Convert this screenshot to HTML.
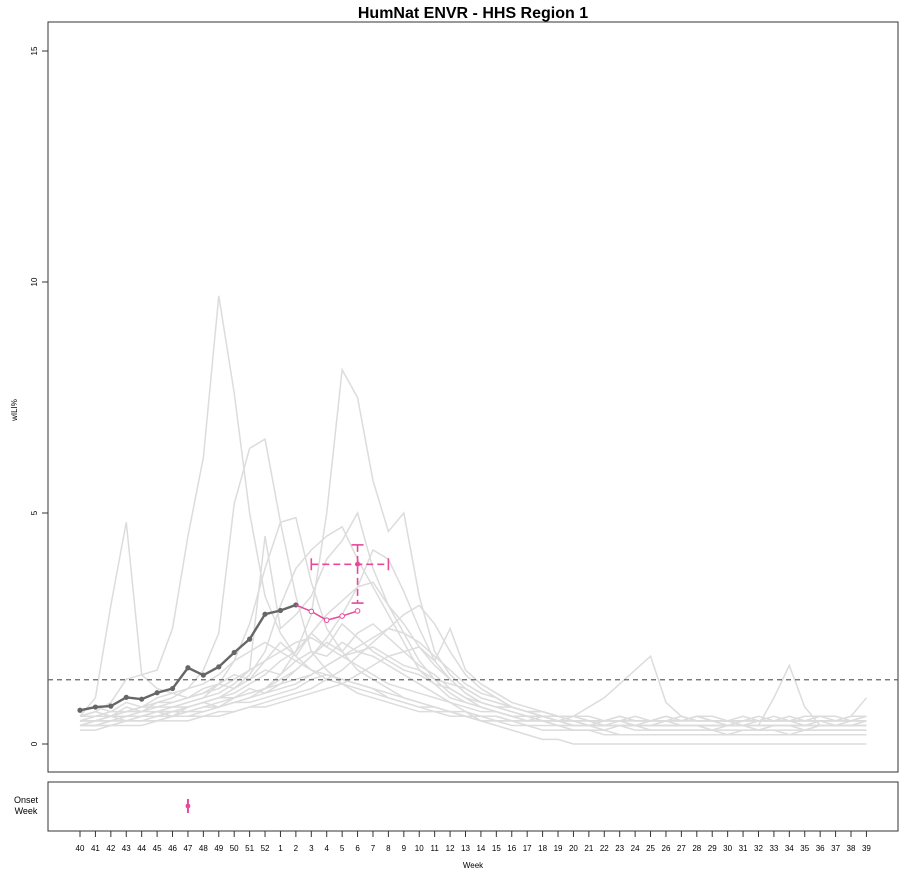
<!DOCTYPE html>
<html><head><meta charset="utf-8"><style>
body{margin:0;background:#fff;font-family:"Liberation Sans",sans-serif}
svg text{font-family:"Liberation Sans",sans-serif}
</style></head><body>
<svg id="c" width="918" height="880" xmlns="http://www.w3.org/2000/svg">
<text x="473" y="18" text-anchor="middle" font-size="16" font-weight="bold">HumNat ENVR - HHS Region 1</text>
<rect x="48" y="22" width="850" height="750" fill="none" stroke="#333" stroke-width="1"/>
<rect x="48" y="782" width="850" height="49" fill="none" stroke="#333" stroke-width="1"/>
<text transform="translate(17,410) rotate(-90)" text-anchor="middle" font-size="8">wILI%</text>
<text x="473" y="868" text-anchor="middle" font-size="8">Week</text>
<text x="26" y="803" text-anchor="middle" font-size="9">Onset</text>
<text x="26" y="814" text-anchor="middle" font-size="9">Week</text>
<g id="hist"></g><g id="axes"></g><g id="cur"></g>
</svg>
<script>
const weeks=[40,41,42,43,44,45,46,47,48,49,50,51,52,1,2,3,4,5,6,7,8,9,10,11,12,13,14,15,16,17,18,19,20,21,22,23,24,25,26,27,28,29,30,31,32,33,34,35,36,37,38,39];
const yTicks=[0,5,10,15];
const current=[0.73,0.80,0.82,1.01,0.97,1.11,1.20,1.65,1.49,1.67,1.98,2.27,2.81,2.89,3.01];
const forecastWeeksIdx=[14,15,16,17,18];
const forecast=[3.01,2.87,2.68,2.77,2.88];
const peakIdx=18, peakVal=3.89, peakLo=3.05, peakHi=4.31, peakWkLo=15, peakWkHi=20;
const onsetIdx=7;
const baseline=1.39;
const hA=[0.6,0.7,0.9,1.4,1.5,1.6,2.5,4.5,6.2,9.7,7.6,5.0,3.2, 2.4,1.9,1.6,1.4,1.3,1.2,1.1,1.0,0.9,0.8,0.8,0.7,0.7, 0.6,0.6,0.5,0.5,0.5,0.5,0.4,0.4,0.4,0.5,0.4,0.4,0.5, 0.4,0.4,0.3,0.4,0.4,0.3,0.4,0.4,0.3,0.4,0.4,0.4,0.5];
const hB=[0.6,1.0,3.0,4.8,1.5,1.2,1.1,1.2,1.3,1.5,1.8,2.0,2.2, 2.0,1.8,1.6,1.5,1.4,1.3,1.2,1.0,0.9,0.8,0.7,0.7,0.6, 0.6,0.6,0.5,0.5,0.6,0.5,0.5,0.4,0.5,0.5,0.4,0.5,0.5, 0.6,0.5,0.5,0.4,0.5,0.5,0.6,0.5,0.5,0.5,0.4,0.5,0.5];
const hC=[0.5,0.6,0.6,0.7,0.8,0.9,1.0,1.2,1.6,2.4,5.2,6.4,6.6, 4.8,3.2,2.0,1.6,1.3,1.1,1.0,0.9,0.8,0.7,0.7,0.6,0.6, 0.5,0.5,0.5,0.4,0.4,0.4,0.4,0.4,0.3,0.4,0.4,0.3,0.3, 0.3,0.3,0.3,0.2,0.3,0.3,0.3,0.2,0.3,0.3,0.3,0.3,0.3];
const hD=[0.5,0.5,0.6,0.6,0.7,0.7,0.8,0.8,0.9,1.0,1.0,1.1,1.2, 1.5,2.0,2.8,5.0,8.1,7.5,5.7,4.6,5.0,3.2,2.0,1.5,1.2, 1.0,0.9,0.8,0.7,0.7,0.6,0.6,0.5,0.5,0.5,0.6,0.5,0.5, 0.5,0.6,0.5,0.5,0.4,0.5,0.5,0.5,0.4,0.5,0.5,0.5,0.5];
const hE=[0.5,0.6,0.6,0.7,0.7,0.8,0.8,0.9,1.0,1.3,1.8,2.6,3.8, 4.8,4.9,3.5,2.5,2.0,1.6,1.4,1.2,1.0,0.9,0.8,0.7,0.6, 0.6,0.5,0.5,0.5,0.5,0.4,0.4,0.4,0.4,0.4,0.4,0.4,0.4, 0.4,0.4,0.4,0.4,0.4,0.4,0.4,0.4,0.4,0.4,0.4,0.4,0.4];
const hF=[0.4,0.5,0.5,0.6,0.6,0.7,0.8,0.9,1.0,1.1,1.3,1.6,4.5, 2.5,2.8,3.2,4.0,4.4,5.0,3.8,3.0,2.4,1.8,1.4,1.1,0.9, 0.8,0.7,0.6,0.6,0.5,0.5,0.4,0.4,0.4,0.4,0.4,0.4,0.4, 0.4,0.4,0.4,0.4,0.4,0.4,0.4,0.4,0.4,0.4,0.4,0.4,0.4];
const hG=[0.4,0.4,0.5,0.5,0.6,0.6,0.7,0.8,0.9,1.0,1.2,1.5,2.0, 3.0,3.8,4.2,4.5,4.7,4.0,3.4,2.8,2.2,1.6,1.3,1.0,0.9, 0.8,0.7,0.6,0.5,0.5,0.5,0.4,0.4,0.4,0.4,0.3,0.3,0.3, 0.3,0.3,0.3,0.3,0.3,0.3,0.3,0.3,0.3,0.3,0.3,0.3,0.3];
const hH=[0.4,0.4,0.4,0.5,0.5,0.5,0.6,0.6,0.7,0.8,0.9,1.0,1.1, 1.2,1.3,1.5,1.7,1.9,2.1,2.3,2.5,2.4,2.2,1.9,1.6,1.3, 1.1,1.0,0.8,0.7,0.6,0.5,0.5,0.4,0.4,0.4,0.4,0.4,0.4, 0.4,0.4,0.4,0.4,0.4,0.4,0.4,0.4,0.4,0.4,0.4,0.4,0.4];
const hI=[0.5,0.5,0.5,0.6,0.6,0.6,0.7,0.7,0.8,0.9,1.0,1.1,1.2, 1.3,1.4,1.5,1.7,1.9,2.0,1.9,1.7,1.5,1.3,1.1,0.9,0.7, 0.5,0.4,0.3,0.2,0.1,0.1,0.0,0.0,0.0,0.0,0.0,0.0,0.0, 0.0,0.0,0.0,0.0,0.0,0.0,0.0,0.0,0.0,0.0,0.0,0.0,0.0];
const hJ=[0.6,0.6,0.7,0.7,0.8,0.8,0.9,1.0,1.1,1.2,1.4,1.6,1.8, 2.0,2.2,2.3,2.1,1.9,1.7,1.5,1.3,1.2,1.1,1.0,0.9,0.8, 0.7,0.7,0.6,0.6,0.5,0.5,0.6,0.8,1.0,1.3,1.6,1.9,0.9, 0.6,0.5,0.5,0.5,0.5,0.5,0.5,0.5,0.5,0.5,0.5,0.5,0.6];
const hK=[0.3,0.3,0.4,0.4,0.4,0.5,0.5,0.5,0.6,0.6,0.7,0.8,0.9, 1.0,1.1,1.2,1.4,1.6,1.9,2.2,2.5,2.8,3.0,2.6,2.0,1.5, 1.2,1.0,0.8,0.7,0.6,0.5,0.5,0.5,0.4,0.4,0.4,0.4,0.4, 0.4,0.4,0.4,0.4,0.4,0.4,1.0,1.7,0.8,0.4,0.4,0.4,0.4];
const hL=[0.4,0.4,0.4,0.5,0.5,0.5,0.6,0.6,0.6,0.7,0.7,0.8,0.8, 0.9,1.0,1.1,1.2,1.3,1.5,1.7,1.9,2.0,2.1,1.8,2.5,1.6, 1.3,1.1,0.9,0.8,0.7,0.6,0.6,0.5,0.5,0.5,0.5,0.5,0.5, 0.5,0.5,0.5,0.5,0.5,0.5,0.5,0.5,0.5,0.5,0.5,0.6,1.0];
const hM=[0.5,0.5,0.6,0.6,0.6,0.7,0.7,0.7,0.8,0.8,0.9,0.9,1.0, 1.1,1.2,1.4,1.5,1.4,1.3,1.2,1.1,1.0,0.9,0.8,0.7,0.6, 0.5,0.5,0.4,0.4,0.3,0.3,0.3,0.3,0.2,0.2,0.2,0.2,0.2, 0.2,0.2,0.2,0.2,0.2,0.2,0.2,0.2,0.2,0.2,0.2,0.2,0.2];
const hN=[0.5,0.5,0.5,0.6,0.6,0.7,0.7,0.8,0.9,1.0,1.1,1.3,1.5, 1.8,2.0,2.4,2.8,3.1,3.4,3.5,3.0,2.6,2.1,1.7,1.4,1.1, 0.9,0.8,0.7,0.6,0.6,0.5,0.5,0.5,0.5,0.5,0.5,0.5,0.5, 0.5,0.5,0.5,0.5,0.5,0.5,0.5,0.5,0.5,0.5,0.5,0.5,0.5];
const hO=[0.4,0.4,0.5,0.5,0.5,0.6,0.6,0.7,0.7,0.8,0.9,1.0,1.2, 1.4,1.6,1.9,2.3,2.8,3.4,4.2,4.0,3.3,2.5,1.8,1.4,1.1, 0.9,0.8,0.7,0.6,0.5,0.5,0.5,0.4,0.4,0.4,0.4,0.4,0.4, 0.4,0.4,0.4,0.4,0.4,0.4,0.4,0.4,0.4,0.4,0.4,0.4,0.4];
const hP=[0.7,0.8,0.7,0.9,0.8,1.0,1.1,1.0,1.2,1.3,1.5,1.4,1.8, 2.2,1.9,2.4,2.1,2.6,2.3,2.0,1.8,1.6,1.5,1.3,1.2,1.0, 0.9,0.8,0.8,0.7,0.6,0.6,0.5,0.5,0.5,0.6,0.5,0.5,0.6, 0.5,0.6,0.5,0.5,0.6,0.5,0.5,0.6,0.5,0.6,0.6,0.5,0.6];
const hQ=[0.4,0.5,0.6,0.5,0.6,0.7,0.6,0.8,0.9,0.8,1.0,1.2,1.1, 1.3,1.6,1.9,2.2,2.0,2.4,2.6,2.3,2.0,1.7,1.5,1.2,1.0, 0.8,0.7,0.6,0.5,0.5,0.4,0.3,0.3,0.3,0.2,0.2,0.2,0.2, 0.2,0.2,0.2,0.2,0.2,0.2,0.2,0.2,0.2,0.2,0.2,0.2,0.2];
const hR=[0.6,0.7,0.6,0.8,0.7,0.9,0.9,1.0,1.1,1.3,1.2,1.4,1.6, 1.5,1.8,2.0,1.9,2.2,2.0,2.1,1.9,1.7,1.6,1.4,1.3,1.2, 1.0,0.9,0.8,0.7,0.7,0.6,0.6,0.6,0.5,0.6,0.5,0.5,0.6, 0.5,0.6,0.6,0.5,0.5,0.6,0.5,0.5,0.6,0.6,0.5,0.6,0.6];
const history=[hA,hB,hC,hD,hE,hF,hG,hH,hI,hJ,hK,hL,hM,hN,hO,hP,hQ,hR];

const NS='http://www.w3.org/2000/svg';
const X=i=>80+i*15.42;
const Y=v=>744-v*46.2;
function mk(tag,attrs,parent){const e=document.createElementNS(NS,tag);for(const k in attrs)e.setAttribute(k,attrs[k]);parent.appendChild(e);return e;}
const gh=document.getElementById('hist'),ga=document.getElementById('axes'),gc=document.getElementById('cur');
history.forEach((s)=>{
  const p=mk('polyline',{points:s.map((v,i)=>X(i)+','+Y(v)).join(' '),fill:'none',stroke:'#dcdcdc','stroke-width':1.5},gh);
  
  
});
yTicks.forEach(t=>{
  const l=mk('line',{x1:42,x2:48,y1:Y(t),y2:Y(t),stroke:'#333'},ga);
  
  
  const tx=mk('text',{transform:`translate(37,${Y(t)}) rotate(-90)`,'text-anchor':'middle','font-size':8},ga);
  tx.textContent=t;
  
  
});
weeks.forEach((w,i)=>{
  const l=mk('line',{x1:X(i),x2:X(i),y1:831,y2:837,stroke:'#333'},ga);
  
  
  const tx=mk('text',{x:X(i),y:851,'text-anchor':'middle','font-size':8},ga);
  tx.textContent=w;
  
  
});
const bl=mk('line',{x1:48,x2:898,y1:Y(baseline),y2:Y(baseline),stroke:'#666','stroke-width':1.3,'stroke-dasharray':'5,4'},gc);


const pink='#e8489a';
const pe1=mk('line',{x1:X(peakWkLo),x2:X(peakWkHi),y1:Y(peakVal),y2:Y(peakVal),stroke:pink,'stroke-width':1.6,'stroke-dasharray':'7,4'},gc);


[peakWkLo,peakWkHi].forEach(i=>{const c=mk('line',{x1:X(i),x2:X(i),y1:Y(peakVal)-6,y2:Y(peakVal)+6,stroke:pink,'stroke-width':1.6},gc);

});
const pe2=mk('line',{x1:X(peakIdx),x2:X(peakIdx),y1:Y(peakHi),y2:Y(peakLo),stroke:pink,'stroke-width':1.6,'stroke-dasharray':'7,4'},gc);


[peakLo,peakHi].forEach(v=>{const c=mk('line',{x1:X(peakIdx)-6,x2:X(peakIdx)+6,y1:Y(v),y2:Y(v),stroke:pink,'stroke-width':1.6},gc);

});
const pk=mk('circle',{cx:X(peakIdx),cy:Y(peakVal),r:2.5,fill:pink},gc);


const cl=mk('polyline',{points:current.map((v,i)=>X(i)+','+Y(v)).join(' '),fill:'none',stroke:'#666','stroke-width':2.4},gc);


current.forEach((v,i)=>{const c=mk('circle',{cx:X(i),cy:Y(v),r:2.6,fill:'#666'},gc);

});
const fl=mk('polyline',{points:forecast.map((v,k)=>X(forecastWeeksIdx[k])+','+Y(v)).join(' '),fill:'none',stroke:pink,'stroke-width':1.5},gc);


forecast.slice(1).forEach((v,k)=>{const c=mk('circle',{cx:X(forecastWeeksIdx[k+1]),cy:Y(v),r:2.3,fill:'#fff',stroke:pink,'stroke-width':1},gc);

});
const ol=mk('line',{x1:X(onsetIdx),x2:X(onsetIdx),y1:799,y2:813,stroke:pink,'stroke-width':2},gc);


const od=mk('circle',{cx:X(onsetIdx),cy:806,r:2.4,fill:pink},gc);


</script>
</body></html>
